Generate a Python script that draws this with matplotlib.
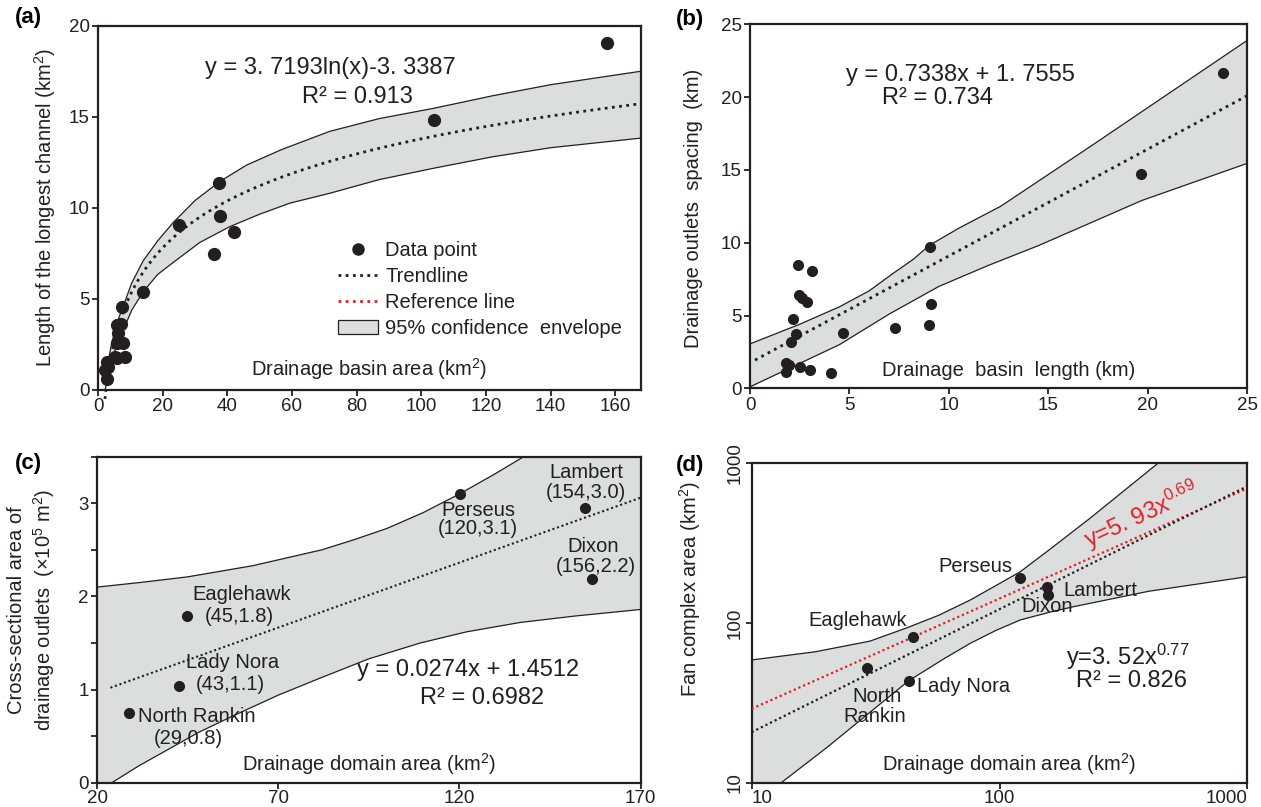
import numpy as np
import matplotlib
matplotlib.use('Agg')
import matplotlib.pyplot as plt
from matplotlib.lines import Line2D
from matplotlib.patches import Patch

plt.rcParams['font.family'] = ['Liberation Sans', 'DejaVu Sans']
plt.rcParams['mathtext.fontset'] = 'custom'
plt.rcParams['mathtext.rm'] = 'Liberation Sans'
plt.rcParams['mathtext.it'] = 'Liberation Sans:italic'
plt.rcParams['mathtext.bf'] = 'Liberation Sans:bold'

# ---------------- data ----------------
# (a) drainage basin area vs longest channel length
area_a = [2.7, 2.2, 3.2, 2.7, 5.3, 8.3, 5.8, 5.8, 7.8, 6.3, 5.8, 7.0, 7.5,
          14.0, 25.0, 37.4, 37.9, 35.9, 42.1, 104.0, 157.4]
length_a = [1.56, 1.1, 1.28, 0.6, 1.83, 1.83, 1.74, 2.6, 2.6, 3.11, 3.57, 3.63, 4.54,
            5.4, 9.07, 11.36, 9.56, 7.45, 8.7, 14.8, 19.05]
trend_a_coef = [3.7193, -3.3387]          # y = a ln(x) + b
env_a_up_x = [2.2, 3.2, 4.2, 5.8, 7.8, 10.4, 14.0, 18.5, 23.3, 30.0, 37.7, 46.0,
              56.8, 71.7, 87.0, 104, 122, 140, 168]
env_a_up_y = [0.4, 1.6, 2.55, 3.65, 4.6, 5.86, 7.1, 8.2, 9.2, 10.4, 11.45, 12.35,
              13.2, 14.2, 14.9, 15.47, 16.15, 16.76, 17.5]
env_a_lo_x = [2.2, 3.3, 4.7, 6.0, 7.8, 10.5, 14.0, 18.5, 24.3, 31.5, 40.8, 50.0,
              59.4, 71.7, 87.0, 104, 122, 140, 168]
env_a_lo_y = [0.0, 0.95, 1.83, 2.6, 3.3, 4.4, 5.4, 6.35, 7.14, 8.1, 8.97, 9.65,
              10.26, 10.8, 11.55, 12.18, 12.8, 13.3, 13.83]

# (b) drainage basin length vs outlet spacing
length_b = [2.4, 3.1, 2.45, 2.63, 2.85, 2.17, 2.29, 2.05, 1.8, 1.97, 1.8, 2.5, 3.03,
            4.07, 4.69, 7.29, 9.0, 9.1, 9.05, 19.68, 23.8]
spacing_b = [8.47, 8.06, 6.41, 6.18, 5.95, 4.74, 3.71, 3.2, 1.72, 1.6, 1.1, 1.49, 1.26,
             1.03, 3.82, 4.12, 4.33, 5.79, 9.68, 14.72, 21.68]
trend_b_coef = [0.7338, 1.7555]           # y = a x + b
env_b_up_x = [0, 2.5, 4.5, 6.0, 7.2, 8.2, 9.0, 10.5, 12.6, 17.1, 25]
env_b_up_y = [3.05, 4.4, 5.6, 6.7, 7.9, 8.85, 9.8, 11.0, 12.5, 16.6, 23.9]
env_b_lo_x = [0, 4.5, 7.0, 9.5, 12.0, 14.5, 19.7, 25]
env_b_lo_y = [0.1, 3.0, 5.1, 7.0, 8.45, 9.8, 12.9, 15.45]

# (c) drainage domain area vs outlet cross-sectional area
names_c = ['North Rankin', 'Lady Nora', 'Eaglehawk', 'Perseus', 'Lambert', 'Dixon']
area_c = [28.7, 42.7, 44.9, 120.2, 154.5, 156.7]
cross_c = [0.75, 1.04, 1.79, 3.1, 2.95, 2.19]
trend_c_x = [23.7, 170]
trend_c_y = [1.02, 3.06]
env_c_up_x = [20, 32, 45, 63, 82, 91, 100, 110, 120, 130, 137.7, 150, 170]
env_c_up_y = [2.1, 2.15, 2.21, 2.33, 2.5, 2.61, 2.73, 2.9, 3.1, 3.32, 3.5, 3.8, 4.3]
env_c_lo_x = [20, 24.1, 31.5, 39.3, 48.0, 57.7, 70.0, 82, 95.0, 109.2, 122.0, 136.7, 152.0, 170]
env_c_lo_y = [-0.12, 0.0, 0.18, 0.35, 0.54, 0.72, 0.94, 1.13, 1.33, 1.5, 1.62, 1.72, 1.79, 1.86]

# (d) drainage domain area vs fan complex area (log-log)
names_d = ['North Rankin', 'Lady Nora', 'Eaglehawk', 'Perseus', 'Lambert', 'Dixon']
area_d = [29.3, 43.0, 44.7, 121.3, 155.0, 156.6]
fan_d = [52.6, 43.5, 82.0, 190.0, 168.0, 149.6]
trend_d_coef = [3.52, 0.77]               # y = a x^b
ref_d_coef = [5.93, 0.69]
env_d_up_x = [10, 18, 30, 42.3, 57, 76.2, 97, 121.3, 160, 232, 432.5, 1000]
env_d_up_y = [58.7, 66, 77, 93.3, 112, 139.3, 172, 209.4, 290, 453, 990.8, 2750]
env_d_lo_x = [10, 20, 43.0, 60, 76.2, 97, 121.3, 160, 199, 400, 1000]
env_d_lo_y = [7.2, 16.5, 43.5, 60, 74.6, 90, 104.5, 117, 126.5, 158, 195]

# ---------------- style ----------------
DARK = '#231f20'
FILL = '#dcdddd'
RED = '#e3202a'
W, H = 1261, 807
LFS = 14.5   # label font size
EFS = 17     # equation font size

fig = plt.figure(figsize=(W / 100, H / 100), dpi=100)


def add_axes(l, r, t, b):
    return fig.add_axes([l / W, 1 - b / H, (r - l) / W, (b - t) / H])


def ftext(x, y, s, **kw):
    kw.setdefault('ha', 'center')
    kw.setdefault('va', 'center')
    kw.setdefault('color', DARK)
    fig.text(x / W, 1 - y / H, s, **kw)


def style(ax):
    for sp in ax.spines.values():
        sp.set_linewidth(1.6)
        sp.set_color(DARK)
    ax.tick_params(direction='out', length=4, width=1.3, labelsize=13.5,
                   colors=DARK, pad=2, top=False, right=False)


def envelope(ax, xu, yu, xl, yl):
    px = np.concatenate([xu, xl[::-1]])
    py = np.concatenate([yu, yl[::-1]])
    ax.fill(px, py, color=FILL, lw=0, zorder=1)
    ax.plot(xu, yu, color=DARK, lw=0.9, zorder=2)
    ax.plot(xl, yl, color=DARK, lw=0.9, zorder=2)


# ---------------- (a) ----------------
axa = add_axes(98, 641, 25.7, 390)
style(axa)
envelope(axa, np.array(env_a_up_x, float), np.array(env_a_up_y, float),
         np.array(env_a_lo_x, float), np.array(env_a_lo_y, float))
xa = np.geomspace(2.15, 168, 300)
axa.plot(xa, trend_a_coef[0] * np.log(xa) + trend_a_coef[1], color=DARK,
         lw=2.0, ls=(0, (1, 1.6)), zorder=3, clip_on=False)
axa.plot(area_a, length_a, 'o', color=DARK, ms=8.5, zorder=4, clip_on=False)
axa.set_xlim(0, 168)
axa.set_ylim(0, 20)
axa.set_xticks(range(0, 161, 20))
axa.set_yticks(range(0, 21, 5))
axa.set_ylabel('Length of the longest channel (km$^2$)', fontsize=LFS, color=DARK)
axa.yaxis.set_label_coords(-0.074, 0.5)
axa.text(0.5, 0.022, 'Drainage basin area (km$^2$)', transform=axa.transAxes,
         ha='center', va='bottom', fontsize=LFS, color=DARK)
handles = [Line2D([], [], marker='o', ls='none', color=DARK, ms=8),
           Line2D([], [], color=DARK, lw=2, ls=(0, (1, 1.6))),
           Line2D([], [], color=RED, lw=2, ls=(0, (1, 1.6))),
           Patch(facecolor=FILL, edgecolor=DARK, lw=0.9)]
labels = ['Data point', 'Trendline', 'Reference line', '95% confidence  envelope']
leg = axa.legend(handles, labels, loc='upper left', bbox_to_anchor=(0.442, 0.41),
                 frameon=False, fontsize=LFS, handlelength=2.0, handletextpad=0.35,
                 labelspacing=0.35, borderpad=0, borderaxespad=0)
for t in leg.get_texts():
    t.set_color(DARK)
ftext(330, 68, 'y = 3. 7193ln(x)-3. 3387', fontsize=EFS)
ftext(357, 97, 'R² = 0.913', fontsize=EFS)
ftext(28, 18, '(a)', fontsize=16, fontweight='bold', color='black')

# ---------------- (b) ----------------
axb = add_axes(750, 1247.3, 24.3, 388.3)
style(axb)
envelope(axb, np.array(env_b_up_x, float), np.array(env_b_up_y, float),
         np.array(env_b_lo_x, float), np.array(env_b_lo_y, float))
xb = np.array([0.25, 25.0])
axb.plot(xb, trend_b_coef[0] * xb + trend_b_coef[1], color=DARK, lw=2.0,
         ls=(0, (1, 1.6)), zorder=3)
axb.plot(length_b, spacing_b, 'o', color=DARK, ms=7, zorder=4)
axb.set_xlim(0, 25)
axb.set_ylim(0, 25)
axb.set_xticks(range(0, 26, 5))
axb.set_yticks(range(0, 26, 5))
axb.set_ylabel('Drainage outlets  spacing  (km)', fontsize=LFS, color=DARK)
axb.yaxis.set_label_coords(-0.095, 0.493)
axb.text(0.52, 0.022, 'Drainage  basin  length (km)', transform=axb.transAxes,
         ha='center', va='bottom', fontsize=LFS, color=DARK)
ftext(960, 75, 'y = 0.7338x + 1. 7555', fontsize=EFS)
ftext(937, 98, 'R² = 0.734', fontsize=EFS)
ftext(690, 20, '(b)', fontsize=16, fontweight='bold', color='black')

# ---------------- (c) ----------------
axc = add_axes(97, 640.7, 456.7, 782.7)
style(axc)
envelope(axc, np.array(env_c_up_x, float), np.array(env_c_up_y, float),
         np.array(env_c_lo_x, float), np.array(env_c_lo_y, float))
axc.plot(trend_c_x, trend_c_y, color=DARK, lw=1.5, ls=(0, (1, 1.3)), zorder=3)
axc.plot(area_c, cross_c, 'o', color=DARK, ms=7, zorder=4)
axc.set_xlim(20, 170)
axc.set_ylim(0, 3.5)
axc.set_xticks([20, 70, 120, 170])
axc.set_yticks(np.arange(0, 3.51, 0.5))
axc.set_yticklabels(['0', '', '1', '', '2', '', '3', ''])
axc.tick_params(axis='x', pad=1)
axc.set_ylabel('Cross-sectional area of\ndrainage outlets  (×10$^5$ m$^2$)',
               fontsize=LFS, color=DARK, linespacing=1.25)
axc.yaxis.set_label_coords(-0.073, 0.53)
axc.text(0.5, 0.018, 'Drainage domain area (km$^2$)', transform=axc.transAxes,
         ha='center', va='bottom', fontsize=LFS, color=DARK)
ftext(242, 594, 'Eaglehawk', fontsize=LFS)
ftext(239, 616, '(45,1.8)', fontsize=LFS)
ftext(233, 663, 'Lady Nora', fontsize=LFS)
ftext(230, 685, '(43,1.1)', fontsize=LFS)
ftext(197, 717, 'North Rankin', fontsize=LFS)
ftext(188, 738, '(29,0.8)', fontsize=LFS)
ftext(478, 510, 'Perseus', fontsize=LFS)
ftext(478, 528, '(120,3.1)', fontsize=LFS)
ftext(586, 473, 'Lambert', fontsize=LFS)
ftext(586, 493, '(154,3.0)', fontsize=LFS)
ftext(593, 547, 'Dixon', fontsize=LFS)
ftext(596, 567, '(156,2.2)', fontsize=LFS)
ftext(468, 670, 'y = 0.0274x + 1.4512', fontsize=EFS)
ftext(482, 698, 'R² = 0.6982', fontsize=EFS)
ftext(28, 463, '(c)', fontsize=16, fontweight='bold', color='black')

# ---------------- (d) ----------------
axd = add_axes(751.7, 1247.3, 463.3, 782.7)
style(axd)
axd.set_xscale('log')
axd.set_yscale('log')
envelope(axd, np.array(env_d_up_x, float), np.array(env_d_up_y, float),
         np.array(env_d_lo_x, float), np.array(env_d_lo_y, float))
xd = np.geomspace(10, 1000, 100)
axd.plot(xd, ref_d_coef[0] * xd ** ref_d_coef[1], color=RED, lw=1.6,
         ls=(0, (1, 1.3)), zorder=3)
axd.plot(xd, trend_d_coef[0] * xd ** trend_d_coef[1], color=DARK, lw=1.6,
         ls=(0, (1, 1.3)), zorder=3)
axd.plot(area_d, fan_d, 'o', color=DARK, ms=7, zorder=4)
axd.set_xlim(10, 1000)
axd.set_ylim(10, 1000)
axd.set_xticks([10, 100, 1000])
axd.set_xticklabels(['10', '100', '1000'])
axd.set_yticks([10, 100, 1000])
axd.set_yticklabels(['10', '100', '1000'])
axd.minorticks_off()
axd.tick_params(axis='x', pad=1)
xtl = axd.get_xticklabels()
xtl[0].set_ha('left')
xtl[-1].set_ha('right')
plt.setp(axd.get_yticklabels(), rotation=90, va='center')
axd.set_ylabel('Fan complex area (km$^2$)', fontsize=LFS, color=DARK)
axd.yaxis.set_label_coords(-0.099, 0.606)
axd.text(0.52, 0.018, 'Drainage domain area (km$^2$)', transform=axd.transAxes,
         ha='center', va='bottom', fontsize=LFS, color=DARK)
ftext(858, 620, 'Eaglehawk', fontsize=LFS)
ftext(877, 697, 'North', fontsize=LFS)
ftext(875, 717, 'Rankin', fontsize=LFS)
ftext(964, 687, 'Lady Nora', fontsize=LFS)
ftext(975, 567, 'Perseus', fontsize=LFS)
ftext(1100, 590, 'Lambert', fontsize=LFS)
ftext(1047, 606, 'Dixon', fontsize=LFS)
ftext(1142, 515, 'y=5. 93x$^{0.69}$', fontsize=EFS, color=RED, rotation=25)
ftext(1128, 657, 'y=3. 52x$^{0.77}$', fontsize=EFS)
ftext(1131, 681, 'R² = 0.826', fontsize=EFS)
ftext(690, 465, '(d)', fontsize=16, fontweight='bold', color='black')

fig.savefig('out.png', dpi=100)
